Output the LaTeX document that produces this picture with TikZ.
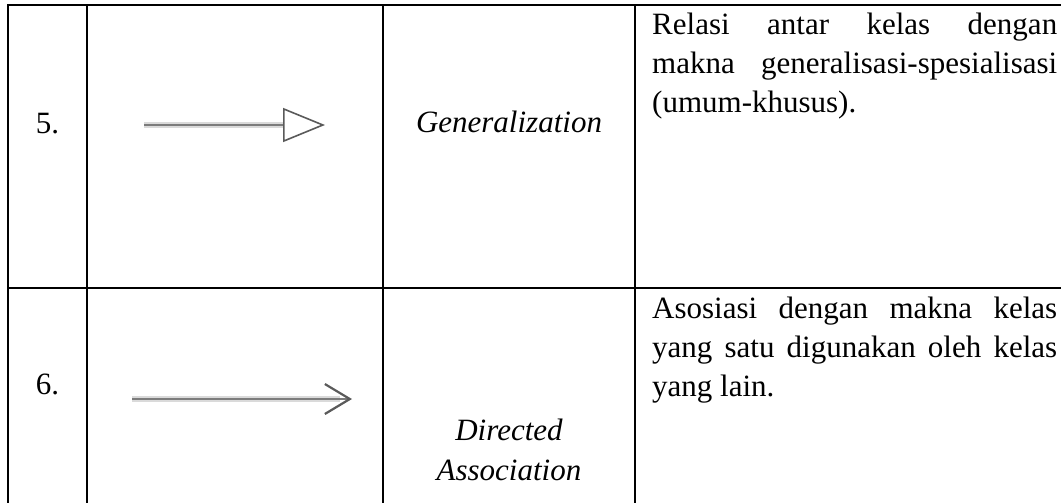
\documentclass[tikz,border=0pt]{standalone}
\usepackage{fontspec}
\setmainfont{Liberation Serif}
\usepackage{xcolor}
\definecolor{halo}{HTML}{DADADA}
\definecolor{shaftgray}{HTML}{7C7C7C}
\definecolor{headgray}{HTML}{5A5A5A}
\usetikzlibrary{arrows.meta}
\newcommand{\cellfont}{\fontsize{31}{39}\selectfont}
\newcommand{\fullline}[1]{\makebox[405pt][s]{#1}}

\begin{document}
\begin{tikzpicture}[x=1pt,y=-1pt]

\tikzstyle{grid}=[
	line width=2.6pt,
	line cap=rect,
	color=black
]
\tikzstyle{num}=[
	inner sep=0,
	anchor=base,
	font=\cellfont
]
\tikzstyle{kind}=[
	inner sep=0,
	anchor=base,
	font=\cellfont\itshape
]
\tikzstyle{desc}=[
	inner sep=0,
	anchor=base west,
	font=\cellfont
]
\tikzstyle{halo}=[line width=6pt, color=halo]
\tikzstyle{shaft}=[line width=2.2pt, color=shaftgray]

\useasboundingbox (0,0) rectangle (1061,503);

% table rules
\draw[grid] (8,5) -- (1061,5);
\draw[grid] (8,288) -- (1061,288);
\foreach \x in {8,87,383,635}
	\draw[grid] (\x,5) -- (\x,503);

% row 5
\node[num] (n5) at (47.5,133) {5.};

\coordinate (g0) at (144,125);
\coordinate (g1) at (325,125);
\draw[halo] (g0) -- (283,125);
\draw[shaft, -{Triangle[open, length=42pt, width=34pt, line width=1.6pt, color=headgray]}]
	(g0) -- (g1);

\node[kind] (k5) at (509,132) {Generalization};

\node[desc] (d5a) at (652,35) {\fullline{Relasi antar kelas dengan}};
\node[desc] (d5b) at (652,74) {\fullline{makna generalisasi-spesialisasi}};
\node[desc] (d5c) at (652,113) {(umum-khusus).};

% row 6
\node[num] (n6) at (47.5,394) {6.};

\coordinate (a0) at (132,399);
\coordinate (a1) at (352,399);
\draw[halo] (a0) -- (340,399);
\draw[shaft, -{Straight Barb[length=25pt, width=30pt, line width=2.2pt, color=headgray]}]
	(a0) -- (a1);

\node[kind] (k6a) at (509,440) {Directed};
\node[kind] (k6b) at (509,480) {Association};

\node[desc] (d6a) at (652,318) {\fullline{Asosiasi dengan makna kelas}};
\node[desc] (d6b) at (652,357) {\fullline{yang satu digunakan oleh kelas}};
\node[desc] (d6c) at (652,396) {yang lain.};

\end{tikzpicture}
\end{document}
